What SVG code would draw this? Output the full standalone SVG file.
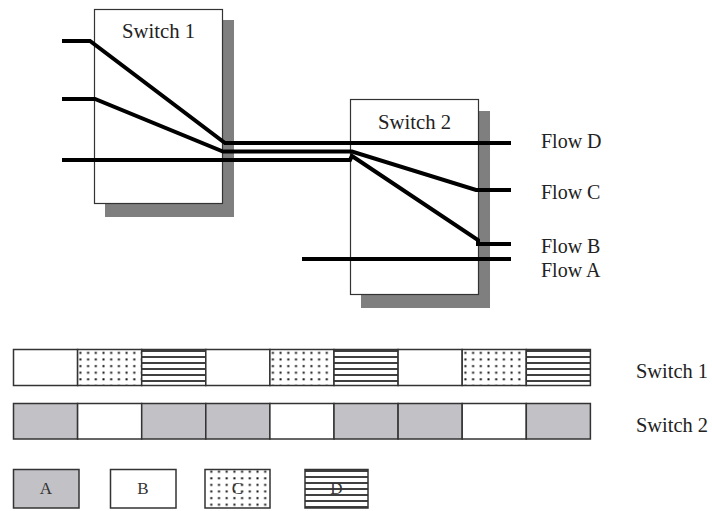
<svg xmlns="http://www.w3.org/2000/svg" width="712" height="511" viewBox="0 0 712 511">
<style>
.shadow{fill:#7f7f7f}
.box{fill:#fff;stroke:#333;stroke-width:1.2}
.flow{fill:none;stroke:#000;stroke-width:4}
.lbl{font-family:"Liberation Serif","Times New Roman",serif;font-size:20px;fill:#222}
.leg{font-family:"Liberation Serif","Times New Roman",serif;font-size:17px;fill:#333;text-anchor:middle}
.cell{stroke:#333;stroke-width:1.5}
.a{fill:#c2c1c6}
.b{fill:#fff}
.c{fill:url(#dots)}
.d{fill:url(#hlines)}
</style>
<defs>
<pattern id="dots" patternUnits="userSpaceOnUse" width="7.7" height="6.6">
<rect width="7.7" height="6.6" fill="#fff"/>
<rect x="2.4" y="2.1" width="2" height="2" fill="#111"/>
</pattern>
<pattern id="hlines" patternUnits="userSpaceOnUse" width="8" height="6">
<rect width="8" height="6" fill="#fff"/>
<rect x="0" y="2.2" width="8" height="1.6" fill="#111"/>
</pattern>
</defs>
<g id="switch1">
<rect class="shadow" x="105" y="20" width="129" height="197"/>
<rect class="box" x="94.5" y="9.5" width="128" height="194"/>
<text class="lbl" x="158.5" y="38" text-anchor="middle" textLength="73" lengthAdjust="spacingAndGlyphs">Switch 1</text>
</g>
<g id="switch2">
<rect class="shadow" x="361" y="111" width="129" height="197"/>
<rect class="box" x="350.5" y="99.5" width="128" height="195"/>
<text class="lbl" x="414.5" y="128.5" text-anchor="middle" textLength="73" lengthAdjust="spacingAndGlyphs">Switch 2</text>
</g>
<g id="connectors">
<path class="flow" d="M62,41 H90 L225,143 H511"/>
<path class="flow" d="M62,99 H95 L223,151.5 H352 L476,190 H511"/>
<path class="flow" d="M62,160 H350 L352,156 L478,240 V244 H511"/>
<path class="flow" d="M302,259 H511"/>
</g>
<g id="flow-labels">
<text class="lbl" x="541" y="148">Flow D</text>
<text class="lbl" x="541" y="199">Flow C</text>
<text class="lbl" x="541" y="253">Flow B</text>
<text class="lbl" x="541" y="277">Flow A</text>
</g>
<g id="bar-switch1">
<rect class="cell b" x="13.5" y="349.5" width="64.1" height="36"/>
<rect class="cell c" x="77.6" y="349.5" width="64.1" height="36"/>
<rect class="cell d" x="141.7" y="349.5" width="64.1" height="36"/>
<rect class="cell b" x="205.8" y="349.5" width="64.1" height="36"/>
<rect class="cell c" x="269.9" y="349.5" width="64.1" height="36"/>
<rect class="cell d" x="334" y="349.5" width="64.1" height="36"/>
<rect class="cell b" x="398.1" y="349.5" width="64.1" height="36"/>
<rect class="cell c" x="462.2" y="349.5" width="64.1" height="36"/>
<rect class="cell d" x="526.3" y="349.5" width="64.1" height="36"/>
<text class="lbl" x="636" y="378" textLength="72" lengthAdjust="spacingAndGlyphs">Switch 1</text>
</g>
<g id="bar-switch2">
<rect class="cell a" x="13.5" y="403.5" width="64.1" height="35.5"/>
<rect class="cell b" x="77.6" y="403.5" width="64.1" height="35.5"/>
<rect class="cell a" x="141.7" y="403.5" width="64.1" height="35.5"/>
<rect class="cell a" x="205.8" y="403.5" width="64.1" height="35.5"/>
<rect class="cell b" x="269.9" y="403.5" width="64.1" height="35.5"/>
<rect class="cell a" x="334" y="403.5" width="64.1" height="35.5"/>
<rect class="cell a" x="398.1" y="403.5" width="64.1" height="35.5"/>
<rect class="cell b" x="462.2" y="403.5" width="64.1" height="35.5"/>
<rect class="cell a" x="526.3" y="403.5" width="64.1" height="35.5"/>
<text class="lbl" x="636" y="431.5" textLength="72" lengthAdjust="spacingAndGlyphs">Switch 2</text>
</g>
<g id="legend-A">
<rect class="cell a" x="13.5" y="469.5" width="65.5" height="38.5"/>
<text class="leg" x="46" y="494">A</text>
</g>
<g id="legend-B">
<rect class="cell b" x="110.5" y="469.5" width="65.5" height="38.5"/>
<text class="leg" x="143" y="494">B</text>
</g>
<g id="legend-C">
<rect class="cell c" x="205" y="469.5" width="65" height="38.5"/>
<text class="leg" x="237.5" y="494">C</text>
</g>
<g id="legend-D">
<rect class="cell d" x="305" y="469.5" width="63" height="38.5"/>
<text class="leg" x="336.5" y="494">D</text>
</g>
</svg>
